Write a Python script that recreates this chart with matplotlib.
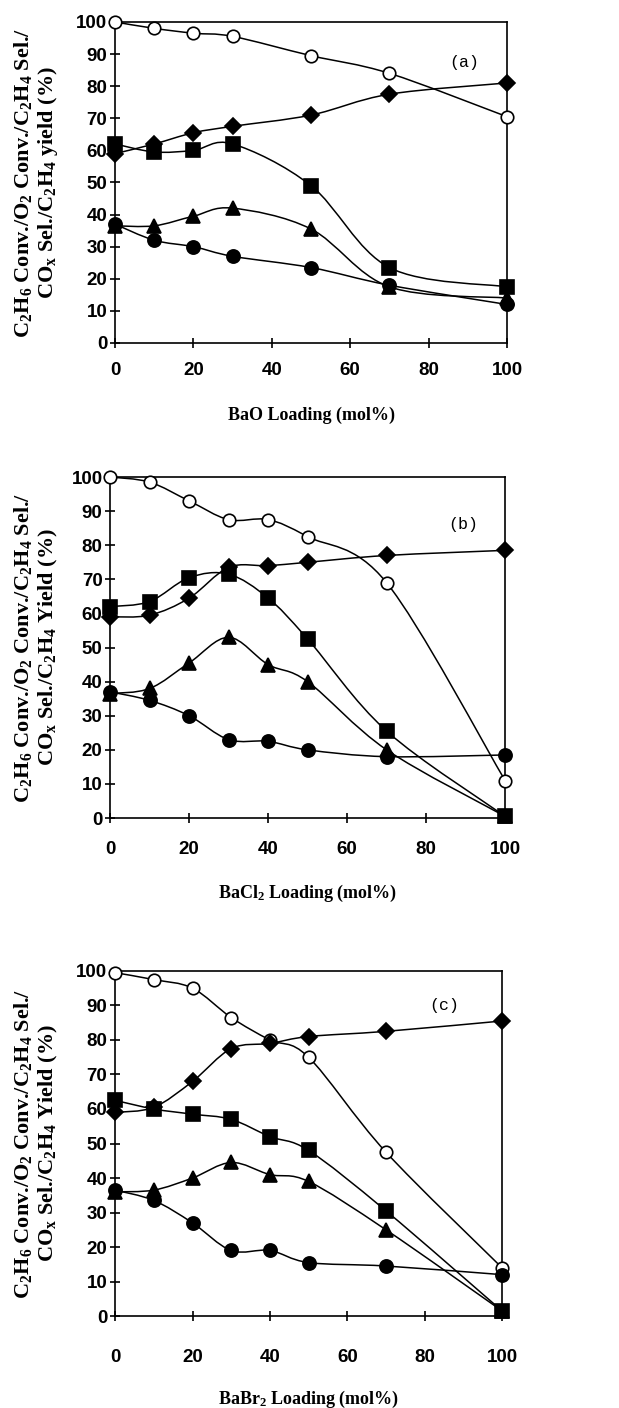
import numpy as np
import matplotlib
matplotlib.use('Agg')
import matplotlib.pyplot as plt
from matplotlib.path import Path
from matplotlib.patches import PathPatch

# --- data ---
x_a = [0, 10, 20, 30, 50, 70, 100]
a_o2 = [100, 98, 96.5, 95.5, 89.5, 84, 70.5]        # open circle
a_sel = [59, 62, 65.5, 67.5, 71, 77.5, 81]          # diamond
a_cox = [62, 59.5, 60, 62, 49, 23.5, 17.5]          # square
a_c2h6 = [36.5, 36.5, 39.5, 42, 35.5, 17.5, 14]     # triangle
a_yield = [37, 32, 30, 27, 23.5, 18, 12]            # filled circle

x_b = [0, 10, 20, 30, 40, 50, 70, 100]
b_o2 = [100, 98.5, 93, 87.5, 87.5, 82.5, 69, 11]
b_sel = [59, 59.5, 64.5, 73.5, 74, 75, 77, 78.5]
b_cox = [62, 63.5, 70.5, 71.5, 64.5, 52.5, 25.5, 0.5]
b_c2h6 = [36.5, 38, 45.5, 53, 45, 40, 20, 0.5]
b_yield = [37, 34.5, 30, 23, 22.5, 20, 18, 18.5]

x_c = [0, 10, 20, 30, 40, 50, 70, 100]
c_o2 = [99.5, 97.5, 95, 86.5, 80, 75, 47.5, 14]
c_sel = [59, 60.5, 68, 77.5, 79, 81, 82.5, 85.5]
c_cox = [62.5, 60, 58.5, 57, 52, 48, 30.5, 1.5]
c_c2h6 = [36, 36.5, 40, 44.5, 41, 39, 25, 1.5]
c_yield = [36.5, 33.5, 27, 19, 19, 15.5, 14.5, 12]

x_ticks = [0, 20, 40, 60, 80, 100]
y_ticks = [0, 10, 20, 30, 40, 50, 60, 70, 80, 90, 100]

plt.rcParams['mathtext.default'] = 'regular'


def smooth_line(ax, xs, ys):
    """Excel-style smoothed connector: cubic Bezier through the points."""
    p = np.column_stack([xs, ys]).astype(float)
    n = len(p)
    verts = [p[0]]
    codes = [Path.MOVETO]
    for i in range(n - 1):
        p0 = p[i - 1] if i > 0 else p[i]
        p3 = p[i + 2] if i + 2 < n else p[i + 1]
        c1 = p[i] + (p[i + 1] - p0) / 6.0
        c2 = p[i + 1] - (p3 - p[i]) / 6.0
        verts += [c1, c2, p[i + 1]]
        codes += [Path.CURVE4] * 3
    ax.add_patch(PathPatch(Path(verts, codes), fill=False, lw=1.1,
                           edgecolor='black', clip_on=False, zorder=2))


def panel(rect, xs, series, xlabel, ylabel2, tag, tag_xy, tickpad, xlabpad):
    ax = fig.add_axes(rect)
    styles = [('o', 'white', 9), ('D', 'black', 8), ('s', 'black', 10),
              ('^', 'black', 9.5), ('o', 'black', 9.5)]
    for ys, (m, fc, ms) in zip(series, styles):
        smooth_line(ax, xs, ys)
        ax.plot(xs, ys, linestyle='none', marker=m, ms=ms, mfc=fc,
                mec='black', mew=1.2, clip_on=False, zorder=3)
    ax.set_xlim(0, 100)
    ax.set_ylim(0, 100)
    ax.set_xticks(x_ticks)
    ax.set_yticks(y_ticks)
    for s in ax.spines.values():
        s.set_linewidth(1.2)
    ax.tick_params(direction='inout', length=7, width=1.2)
    ax.tick_params(axis='x', pad=tickpad)
    ax.tick_params(axis='y', pad=2)
    for lab in ax.get_xticklabels() + ax.get_yticklabels():
        lab.set_fontfamily('Liberation Sans')
        lab.set_fontweight('bold')
        lab.set_fontsize(13.5)
    ax.set_xlabel(xlabel, fontfamily='Liberation Serif', fontweight='bold',
                  fontsize=13, labelpad=xlabpad)
    ylab = ('C$_2$H$_6$ Conv./O$_2$ Conv./C$_2$H$_4$ Sel./\n' + ylabel2)
    cy = rect[1] + rect[3] / 2
    fig.text(0.058, cy, ylab, rotation=90, ha='center', va='center',
             fontfamily='Liberation Serif', fontweight='bold', fontsize=16,
             linespacing=1.15)
    ax.text(tag_xy[0], tag_xy[1], tag, fontfamily='Liberation Mono',
            fontsize=12, ha='center', va='center')
    return ax


fig = plt.figure(figsize=(6.19, 14.08), dpi=100)

panel([0.186, 0.7564, 0.633, 0.228], x_a,
      [a_o2, a_sel, a_cox, a_c2h6, a_yield],
      'BaO Loading (mol%)', 'CO$_x$ Sel./C$_2$H$_4$ yield (%)',
      '(a)', (89, 87.5), 10, 20)
panel([0.178, 0.419, 0.638, 0.2422], x_b,
      [b_o2, b_sel, b_cox, b_c2h6, b_yield],
      'BaCl$_2$ Loading (mol%)', 'CO$_x$ Sel./C$_2$H$_4$ Yield (%)',
      '(b)', (89.4, 86), 13, 18)
panel([0.186, 0.0653, 0.625, 0.2451], x_c,
      [c_o2, c_sel, c_cox, c_c2h6, c_yield],
      'BaBr$_2$ Loading (mol%)', 'CO$_x$ Sel./C$_2$H$_4$ Yield (%)',
      '(c)', (85, 90), 20, 17)

fig.savefig('out.png', dpi=100)
